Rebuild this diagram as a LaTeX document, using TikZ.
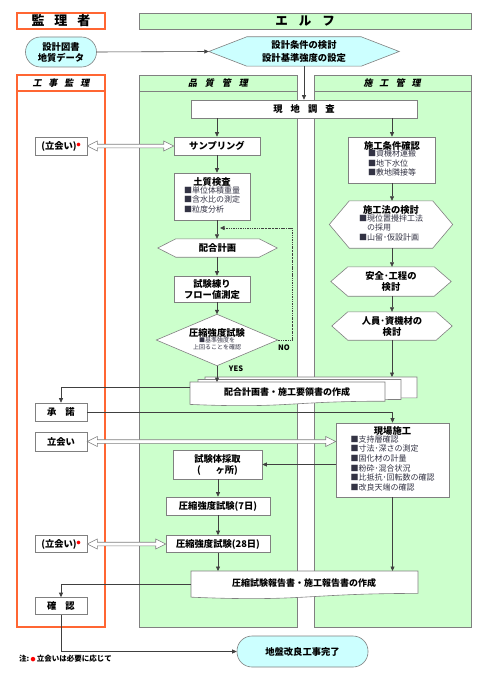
\documentclass[tikz,border=0pt]{standalone}
\usepackage{fontspec}
\setmainfont{Noto Sans CJK JP}
\newfontfamily\jpslant[FakeSlant=0.2]{Noto Sans CJK JP}
\usetikzlibrary{arrows.meta,calc}
\pgfdeclarelayer{bg}\pgfdeclarelayer{mid}
\pgfsetlayers{bg,mid,main}
\definecolor{grn}{HTML}{CCFFCC}
\definecolor{cyn}{HTML}{CCFFFF}
\definecolor{org}{HTML}{FF6633}
\definecolor{bd}{HTML}{808080}
\definecolor{ln}{HTML}{404040}
\definecolor{itm}{HTML}{333344}
\newcommand\itemsblock[1]{{\mdseries\color{itm}\fontsize{8}{9.6}\selectfont\begin{tabular}{@{}l@{}}#1\end{tabular}}}
\newcommand\hexof[3][fill=white]{\begin{pgfonlayer}{mid}\draw[shp,#1] (#2.west) -- ([xshift=#3]#2.north west) -- ([xshift=-#3]#2.north east) -- (#2.east) -- ([xshift=-#3]#2.south east) -- ([xshift=#3]#2.south west) -- cycle;\end{pgfonlayer}}
\newcommand\docpath[4]{\draw[shp] (#1,#2) -- (#3,#2) -- (#3,{#2+0.8*#4}) .. controls ({(#1+#3)/2},{#2+0.8*#4}) and ({(#1+#3)/2},{#2+1.107*#4}) .. (#1,{#2+0.934*#4}) -- cycle;}
\newcommand\hollowarrow[2]{\draw[hollow] let \p1=(#1), \p2=(#2) in (\x1,\y1) -- ++(10pt,5pt) -- ++(0pt,-3.2pt) -- (\x2-10pt,\y1+1.8pt) -- ++(0pt,3.2pt) -- (\x2,\y1) -- ++(-10pt,-5pt) -- ++(0pt,3.2pt) -- (\x1+10pt,\y1-1.8pt) -- ++(0pt,-3.2pt) -- cycle;}
\newcommand\redmark{\textcolor{red}{\raisebox{3pt}{\fontsize{4}{5}\selectfont ●}}}
\begin{document}
\begin{tikzpicture}[x=1pt,y=-1pt,
  box/.style={draw=bd,fill=white,line width=0.6pt,inner sep=0pt,align=center,font=\bfseries\fontsize{9.3}{11}\selectfont},
  lbl/.style={inner sep=0pt,align=center,font=\bfseries\fontsize{9.3}{11}\selectfont},
  shp/.style={draw=bd,fill=white,line width=0.6pt},
  conn/.style={draw=ln,line width=0.6pt},
  arr/.style={conn,-{Triangle[length=4.5pt,width=4pt]}},
  hollow/.style={draw=bd,fill=white,line width=0.6pt},
  hdr/.style={inner sep=0pt,font=\jpslant\bfseries\fontsize{9}{10}\selectfont},
  colbox/.style={draw=bd,fill=grn,line width=0.6pt},
  obox/.style={draw=org,line width=1.3pt}]
\useasboundingbox (0,0) rectangle (500,674);
\begin{pgfonlayer}{bg}
 \fill[white] (0,0) rectangle (500,674);
 \draw[obox,fill=white] (17,75) rectangle (105,627); \draw[obox] (17,91) -- (105,91);
 \draw[colbox] (139,75) rectangle (297,627); \draw[conn,draw=bd] (139,91) -- (297,91);
 \draw[colbox] (314,75) rectangle (471,627); \draw[conn,draw=bd] (314,91) -- (471,91);
\end{pgfonlayer}
% headers
\node[box,draw=org,line width=1.3pt,minimum width=88,minimum height=16] (kanrisha) at (61,21) {\fontsize{13}{14}\selectfont 監\hspace{10pt}理\hspace{10pt}者};
\node[box,fill=grn,minimum width=332,minimum height=16] (elf) at (305,21) {\fontsize{12.5}{14}\selectfont エ\hspace{11pt}ル\hspace{11pt}フ};
\node[hdr] (hkoji) at (61,83) {工\hspace{7pt}事\hspace{7pt}監\hspace{7pt}理};
\node[hdr] (hhin) at (218,83) {品\hspace{8pt}質\hspace{8pt}管\hspace{8pt}理};
\node[hdr] (hsekou) at (392,83) {施\hspace{7pt}工\hspace{7pt}管\hspace{7pt}理};
% top
\node[box,fill=cyn,rounded corners=15pt,minimum width=71,minimum height=30] (zusho) at (61,52) {設計図書\\地質データ};
\node[lbl,minimum width=190,minimum height=29,font=\bfseries\fontsize{9.3}{12.5}\selectfont] (sekkei) at (304,51.5) {設計条件の検討\\設計基準強度の設定};
\hexof[fill=cyn]{sekkei}{38}
\node[box,minimum width=226,minimum height=18] (genchi) at (304,109) {現\hspace{8pt}地\hspace{8pt}調\hspace{8pt}査};
% quality column
\node[box,minimum width=86,minimum height=18] (sampling) at (217,146) {サンプリング};
\node[box,minimum width=76,minimum height=47] (dositsu) at (212,196.5) {土質検査\\[-1pt]\itemsblock{■単位体積重量\\■含水比の測定\\■粒度分析}};
\node[lbl,minimum width=119,minimum height=18] (haigo) at (217.5,248) {配合計画};
\hexof{haigo}{18}
\node[box,minimum width=76,minimum height=26] (neri) at (212,289) {試験練り\\フロー値測定};
\node[lbl,minimum width=121,minimum height=51] (asshuku) at (217,340) {圧縮強度試験\\[-1pt]{\mdseries\color{itm}\fontsize{6}{6.8}\selectfont\begin{tabular}{@{}c@{}}■基準強度を\\上回ることを確認\end{tabular}}};
\begin{pgfonlayer}{mid}
 \draw[shp] (asshuku.west) -- (asshuku.north) -- (asshuku.east) -- (asshuku.south) -- cycle;
 \docpath{205}{377}{417}{26}
 \docpath{198}{379.5}{401}{25}
 \docpath{190}{382}{385}{24}
 \docpath{191}{571}{418}{28}
\end{pgfonlayer}
\node[lbl,font=\bfseries\fontsize{7.5}{8}\selectfont] (nolbl) at (284,348) {NO};
\node[lbl,font=\bfseries\fontsize{7.5}{8}\selectfont] (yeslbl) at (236,369) {YES};
\node[lbl,font=\bfseries\fontsize{9}{10}\selectfont] (doc1) at (287,392) {配合計画書・施工要領書の作成};
\node[lbl,font=\bfseries\fontsize{9}{10}\selectfont] (doc2) at (304,583) {圧縮試験報告書・施工報告書の作成};
% work column
\node[box,minimum width=87,minimum height=46] (jouken) at (392,160) {施工条件確認\\[-1pt]\itemsblock{■資機材運搬\\■地下水位\\■敷地隣接等}};
\node[lbl,minimum width=123,minimum height=47] (kouhou) at (391,224.5) {施工法の検討\\[-1pt]\itemsblock{■現位置攪拌工法\\\hspace{1em}の採用\\■山留･仮設計画}};
\hexof{kouhou}{20}
\node[lbl,minimum width=120,minimum height=29] (anzen) at (391,281.5) {安全･工程の\\検討};
\hexof{anzen}{17}
\node[lbl,minimum width=120,minimum height=28] (jinin) at (392,326) {人員･資機材の\\検討};
\hexof{jinin}{16}
\node[box,minimum width=113,minimum height=74] (genba) at (392.5,460) {現場施工\\[-1pt]\itemsblock{■支持層確認\\■寸法･深さの測定\\■固化材の計量\\■粉砕･混合状況\\■比抵抗･回転数の確認\\■改良天端の確認}};
\node[box,minimum width=89,minimum height=29] (shikentai) at (217.5,464.5) {試験体採取\\(\hspace{1.6em}ヶ所)};
\node[box,minimum width=104,minimum height=18] (a7) at (218,506) {圧縮強度試験(7日)};
\node[box,minimum width=104,minimum height=17] (a28) at (218,544) {圧縮強度試験(28日)};
% left column
\node[box,minimum width=52,minimum height=18] (tachiai1) at (61,146) {(立会い)\redmark};
\node[box,minimum width=52,minimum height=18] (shodaku) at (61,412) {承\hspace{9pt}諾};
\node[box,minimum width=52,minimum height=19] (tachiai2) at (61,441.5) {立会い};
\node[box,minimum width=52,minimum height=17] (tachiai3) at (61,544) {(立会い)\redmark};
\node[box,minimum width=52,minimum height=17] (kakunin) at (61,606) {確\hspace{9pt}認};
\node[box,fill=cyn,rounded corners=15pt,minimum width=131,minimum height=31] (kanryo) at (302.5,651.5) {地盤改良工事完了};
\node[anchor=west,inner sep=0pt,font=\bfseries\fontsize{7.5}{8}\selectfont] (note) at (19,659) {注:\,\textcolor{red}{\fontsize{5}{6}\selectfont ●}\,立会いは必要に応じて};
% coordinates
\coordinate (d1w) at (190,387);
\coordinate (d1back) at (392,377);
\coordinate (d1front) at (217,382);
\coordinate (d2w) at (191,584);
\coordinate (d2a) at (218,571);
\coordinate (d2b) at (392.5,571);
\coordinate (loopend) at (220,228);
% connectors
\draw[arr] (zusho.east) -- (sekkei.west);
\draw[arr] (sekkei.south) -- (genchi.north);
\draw[arr] (genchi.south -| sampling.north) -- (sampling.north);
\draw[arr] (genchi.south -| jouken.north) -- (jouken.north);
\draw[arr] (sampling.south) -- (sampling.south |- dositsu.north);
\draw[arr] (sampling.south |- dositsu.south) -- (sampling.south |- haigo.north);
\draw[arr] (sampling.south |- haigo.south) -- (sampling.south |- neri.north);
\draw[arr] (sampling.south |- neri.south) -- (asshuku.north);
\draw[arr] (asshuku.south) -- (asshuku.south |- d1front);
\draw[arr,line width=0.8pt,dash pattern=on 2.5pt off 1pt on 0.8pt off 1pt on 0.8pt off 1pt] (asshuku.east) -- ++(15,0) |- (loopend);
\draw[arr] (jouken.south) -- (jouken.south |- kouhou.north);
\draw[arr] (jouken.south |- kouhou.south) -- (jouken.south |- anzen.north);
\draw[arr] (jouken.south |- anzen.south) -- (jouken.south |- jinin.north);
\draw[arr] (jouken.south |- jinin.south) -- (d1back);
\draw[arr] (d1w) -| (shodaku.north);
\draw[arr] (shodaku.east) -| (genba.north);
\hollowarrow{tachiai1.east}{sampling.west}
\hollowarrow{tachiai2.east}{genba.west}
\hollowarrow{tachiai3.east}{a28.west}
\draw[arr] (genba.west |- shikentai.east) -- (shikentai.east);
\draw[arr] (shikentai.south -| a7.north) -- (a7.north);
\draw[arr] (a7.south) -- (a28.north);
\draw[arr] (a28.south) -- (d2a);
\draw[arr] (genba.south) -- (d2b);
\draw[arr] (d2w) -| (kakunin.north);
\draw[arr] (kakunin.south) |- (kanryo.west);
\end{tikzpicture}
\end{document}
